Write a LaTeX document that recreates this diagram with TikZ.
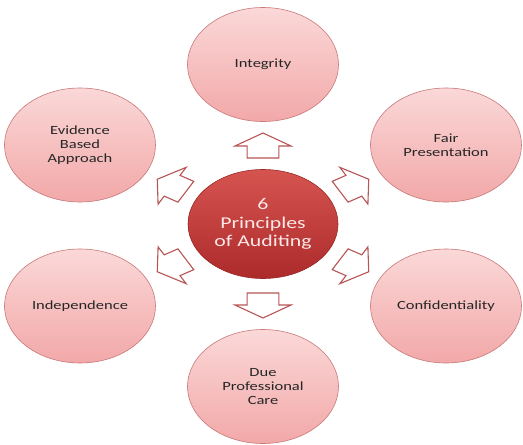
\documentclass[tikz,border=0pt]{standalone}
\usepackage{fontspec}
\setmainfont[FakeStretch=1.32]{Carlito}
\usetikzlibrary{shapes.geometric}
\definecolor{outtop}{RGB}{251,216,216}
\definecolor{outbot}{RGB}{242,168,168}
\definecolor{outline}{RGB}{200,120,120}
\definecolor{hubtop}{RGB}{214,84,80}
\definecolor{hubbot}{RGB}{172,42,42}
\definecolor{hubline}{RGB}{150,40,40}
\definecolor{hubtext}{RGB}{252,232,232}
\definecolor{txt}{RGB}{38,38,38}
\definecolor{arrline}{RGB}{184,84,84}
\begin{document}
\begin{tikzpicture}[x=1pt,y=1pt,
  outer/.style={ellipse, minimum width=151pt, minimum height=114pt, inner sep=0pt,
    top color=outtop, bottom color=outbot, draw=outline, line width=0.6pt,
    align=center, text=txt, font=\fontsize{12.5}{14.3}\selectfont},
  hub/.style={ellipse, minimum width=150pt, minimum height=109pt, inner sep=0pt,
    top color=hubtop, bottom color=hubbot, draw=hubline, line width=0.6pt,
    align=center, text=hubtext, font=\fontsize{16.5}{18.7}\selectfont},
  blockarrow/.style={fill=white, draw=arrline, line width=1.1pt, line join=miter}]
\useasboundingbox (0,0) rectangle (523,-445);
\coordinate (o) at (263,-225.5);
\node[hub] (hub) at (263,-224) {6\\Principles\\of Auditing};
\node[outer] (integrity) at (263,-64.5) {Integrity};
\node[outer] (fair) at (446,-145) {Fair\\Presentation};
\node[outer] (conf) at (446,-306) {Confidentiality};
\node[outer] (due) at (263,-386.5) {Due\\Professional\\Care};
\node[outer] (indep) at (80,-306) {Independence};
\node[outer] (evid) at (80,-145) {Evidence\\Based\\Approach};
\foreach \a in {90,30,-30,-90,210,150}
  \draw[blockarrow, shift={(o)}, xscale=1.32, rotate=\a, xshift=80pt]
    (12.5,0) -- (-0.5,21.25) -- (-0.5,12) -- (-12.5,12) -- (-12.5,-12)
    -- (-0.5,-12) -- (-0.5,-21.25) -- cycle;
\end{tikzpicture}
\end{document}
